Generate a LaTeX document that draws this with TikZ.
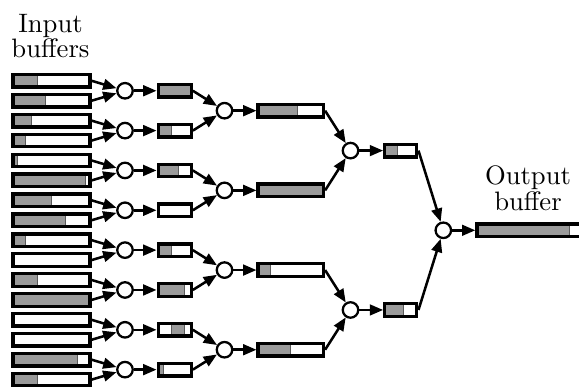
\documentclass[tikz,border=0pt]{standalone}
\usetikzlibrary{arrows.meta, calc}
\definecolor{bufgray}{HTML}{9A9A9A}
\definecolor{bufedge}{HTML}{5A5A5A}
\tikzset{
  every picture/.style={line width=0.9pt},
  buf/.style 2 args={draw=black, line width=1.25pt, fill=white, inner sep=0pt, minimum height=12.5*0.375pt,
    path picture={
      \fill[bufgray] ($(path picture bounding box.south west)!#1!(path picture bounding box.south east)$)
        rectangle ($(path picture bounding box.north west)!#2!(path picture bounding box.north east)$);
      \draw[bufedge, line width=0.45pt] ($(path picture bounding box.south west)!#1!(path picture bounding box.south east)$)
          -- ($(path picture bounding box.north west)!#1!(path picture bounding box.north east)$);
      \draw[bufedge, line width=0.45pt] ($(path picture bounding box.south west)!#2!(path picture bounding box.south east)$)
          -- ($(path picture bounding box.north west)!#2!(path picture bounding box.north east)$);
    }},
  merger/.style={circle, draw=black, fill=white, line width=0.85pt, inner sep=0pt, minimum size=15.5*0.375pt},
  arrow/.style={-{Triangle[length=5pt, width=4pt]}, line width=0.95pt},
  caption/.style={align=center, inner sep=0pt, font=\fontsize{10}{9.4}\selectfont},
}

\begin{document}
\begin{tikzpicture}[x=0.375pt, y=-0.375pt]
  \def\px{0.375pt}
  \useasboundingbox (0,0) rectangle (579,387);
  % labels
  \node[caption, anchor=north] (inlabel) at (50.5,13.3) {Input\\buffers};
  \node[caption, anchor=north] (outlabel) at (528,165) {Output\\buffer};
  % input buffers
  \foreach \f [count=\i] in {0.32,0.42,0.24,0.16,0.06,0.94,0.5,0.68,0.16,0,0.32,1,0,0,0.84,0.32} {
    \pgfmathsetmacro{\y}{80.8+19.92*(\i-1)}
    \node[buf={0}{\f}, minimum width=77*\px] (in\i) at (51.5,\y) {};
  }
  % first merge
  \foreach \lo/\hi [count=\i] in {0/1, 0/0.41, 0/0.61, 0/0, 0/0.41, 0/0.79, 0.41/0.79, 0/0.15} {
    \pgfmathsetmacro{\y}{90.76+39.84*(\i-1)}
    \pgfmathtruncatemacro{\a}{2*\i-1}
    \pgfmathtruncatemacro{\b}{2*\i}
    \node[merger] (ja\i) at (125,\y) {};
    \node[buf={\lo}{\hi}, minimum width=33*\px] (ba\i) at (174.7,\y) {};
    \draw[arrow] (in\a.east) -- (ja\i);
    \draw[arrow] (in\b.east) -- (ja\i);
    \draw[arrow] (ja\i) -- (ba\i);
  }
  % second merge
  \foreach \hi [count=\i] in {0.6, 1, 0.19, 0.5} {
    \pgfmathsetmacro{\y}{110.7+79.68*(\i-1)}
    \pgfmathtruncatemacro{\a}{2*\i-1}
    \pgfmathtruncatemacro{\b}{2*\i}
    \node[merger] (jb\i) at (224.5,\y) {};
    \node[buf={0}{\hi}, minimum width=65.3*\px] (bb\i) at (290.8,\y) {};
    \draw[arrow] (ba\a.east) -- (jb\i);
    \draw[arrow] (ba\b.east) -- (jb\i);
    \draw[arrow] (jb\i) -- (bb\i);
  }
  % third merge
  \foreach \hi [count=\i] in {0.39, 0.58} {
    \pgfmathsetmacro{\y}{150.6+159.36*(\i-1)}
    \pgfmathtruncatemacro{\a}{2*\i-1}
    \pgfmathtruncatemacro{\b}{2*\i}
    \node[merger] (jc\i) at (350.5,\y) {};
    \node[buf={0}{\hi}, minimum width=32*\px] (bc\i) at (400.8,\y) {};
    \draw[arrow] (bb\a.east) -- (jc\i);
    \draw[arrow] (bb\b.east) -- (jc\i);
    \draw[arrow] (jc\i) -- (bc\i);
  }
  % output
  \node[merger] (jd) at (443.3,230.3) {};
  \node[buf={0}{0.84}, minimum width=110*\px] (out) at (532,230.3) {};
  \draw[arrow] (bc1.east) -- (jd);
  \draw[arrow] (bc2.east) -- (jd);
  \draw[arrow] (jd) -- (out);
\end{tikzpicture}
\end{document}
